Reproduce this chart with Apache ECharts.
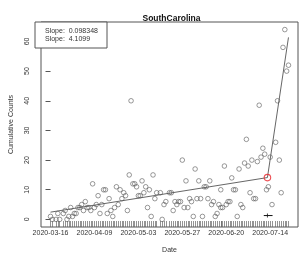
<!DOCTYPE html>
<html>
<head>
<meta charset="utf-8">
<script src="https://cdn.jsdelivr.net/npm/echarts@6/dist/echarts.min.js"></script>
<style>html,body{margin:0;padding:0;background:#fff;}#c{width:301px;height:259px;}</style>
</head>
<body>
<div id="c"></div>
<script>
// Observation day (days since 2020-03-16) and cumulative counts
const obsDay = [0,1,3,4,5,7,8,9,10,11,12,13,14,15,16,17,18,19,20,21,22,23,24,25,26,27,28,29,30,31,32,33,34,35,36,37,38,39,40,41,42,43,44,45,46,47,48,49,50,51,52,53,54,55,56,
  57,58,60,61,62,63,65,66,67,68,69,70,71,72,73,74,75,76,77,78,79,80,81,82,83,84,85,86,87,88,89,90,91,92,93,93,94,95,96,97,98,99,100,101,102,103,104,105,106,107,108,109,110,111,112,113,114,115,116,117,118,119,120,121,123,124,125,126,127,128,129,130];
const counts = [1,0,0,2,0,2,3,0,1,4,1,2,2,4,4,5,3,6,4,4,3,12,4,5,8,2,5,10,10,2,7,3,1,4,11,5,10,7,9,8,3,15,40,12,12,11,8,8,13,9,11,4,10,1,15,
  7,9,9,0,5,6,9,9,3,6,5,6,6,20,4,13,4,7,6,1,17,7,13,7,1,11,11,7,13,5,6,1,2,5,10,4,4,18,5,6,6,14,10,10,1,17,5,4,19,27,18,9,20,7,7,19.5,38.5,21,24,22,10,11,21,5,26,40,20,9,58,64,50,52];
// Tick labels
const tickDays = [0,24,48,72,96,120];
const tickLabels = ['2020-03-16','2020-04-09','2020-05-03','2020-05-27','2020-06-20','2020-07-14'];
const yTicks = [0,10,20,30,40,50,60];
// Segmented fit
const fitIntercept = [2.45];
const slopes = [0.098348, 4.1099];
const breakpoint = [118.5];
const breakCI = [116.5, 121.3];
const lastDay = [130];

const bp = breakpoint[0];
const yBp = fitIntercept[0] + slopes[0] * bp;
const yEnd = yBp + slopes[1] * (lastDay[0] - bp);
const fitLine = [[0, fitIntercept[0]], [bp, yBp], [lastDay[0], yEnd]];

const xMin = -5.2, xMax = 135.2, yMin = -2.56, yMax = 66.56;
const txt = '#333';
const chart = echarts.init(document.getElementById('c'), null, {renderer: 'canvas'});
chart.setOption({
  animation: false,
  title: {text: 'SouthCarolina', left: 166.5, top: 9, textAlign: 'center',
    textStyle: {fontFamily: 'Liberation Sans', fontSize: 8.5, fontWeight: 'bold', color: '#111'}},
  grid: {left: 35, right: 3, top: 22, bottom: 27, show: true, borderColor: '#555', borderWidth: 1, backgroundColor: 'transparent'},
  xAxis: [{
    type: 'value', min: xMin, max: xMax, splitLine: {show: false},
    axisLine: {show: false}, axisTick: {show: false},
    axisLabel: {customValues: tickDays, fontFamily: 'Liberation Sans', fontSize: 7, color: txt, margin: 3,
      formatter: v => tickLabels[tickDays.indexOf(Math.round(v))] || ''},
    name: 'Date', nameLocation: 'middle', nameGap: 20,
    nameTextStyle: {fontFamily: 'Liberation Sans', fontSize: 7, color: txt}
  }, {
    type: 'value', min: xMin, max: xMax, position: 'bottom', splitLine: {show: false},
    axisLine: {show: false}, axisLabel: {show: false},
    axisTick: {show: true, inside: true, length: 6, customValues: obsDay, lineStyle: {color: '#666', width: 0.7}}
  }],
  yAxis: {
    type: 'value', min: yMin, max: yMax, splitLine: {show: false},
    axisLine: {show: false},
    axisTick: {show: true, length: 5, customValues: yTicks, lineStyle: {color: '#555'}},
    axisLabel: {customValues: yTicks, rotate: 90, margin: 10, fontFamily: 'Liberation Sans', fontSize: 7, color: txt},
    name: 'Cumulative Counts', nameLocation: 'middle', nameGap: 26,
    nameTextStyle: {fontFamily: 'Liberation Sans', fontSize: 7, color: txt}
  },
  series: [{
    type: 'scatter', symbol: 'circle', symbolSize: 4.6,
    itemStyle: {color: 'rgba(0,0,0,0)', borderColor: '#555', borderWidth: 0.75},
    data: obsDay.map((d, i) => [d, counts[i]]), z: 3
  }, {
    type: 'line', data: fitLine, symbol: 'none', lineStyle: {color: '#555', width: 0.9}, z: 2
  }, {
    type: 'scatter', symbol: 'circle', symbolSize: 6.5,
    itemStyle: {color: 'rgba(0,0,0,0)', borderColor: '#e8262a', borderWidth: 1.1},
    data: [[bp, yBp]], z: 4
  }, {
    type: 'line', data: [[breakCI[0], 1.3], [breakCI[1], 1.3]], symbol: 'none',
    lineStyle: {color: '#111', width: 1}, z: 4
  }, {
    type: 'scatter', symbol: 'rect', symbolSize: [1, 4], itemStyle: {color: '#111'},
    data: [[bp, 1.3]], z: 4
  }],
  graphic: [{
    type: 'rect', shape: {x: 35, y: 22, width: 72, height: 26},
    style: {fill: '#fff', stroke: '#555', lineWidth: 1}, z: 10
  }, {
    type: 'text', x: 45, y: 31, z: 11,
    style: {text: 'Slope:  ' + slopes[0], fontFamily: 'Liberation Sans', fontSize: 7, fill: txt, verticalAlign: 'middle'}
  }, {
    type: 'text', x: 45, y: 39.5, z: 11,
    style: {text: 'Slope:  ' + slopes[1], fontFamily: 'Liberation Sans', fontSize: 7, fill: txt, verticalAlign: 'middle'}
  }]
});
</script>
</body>
</html>
